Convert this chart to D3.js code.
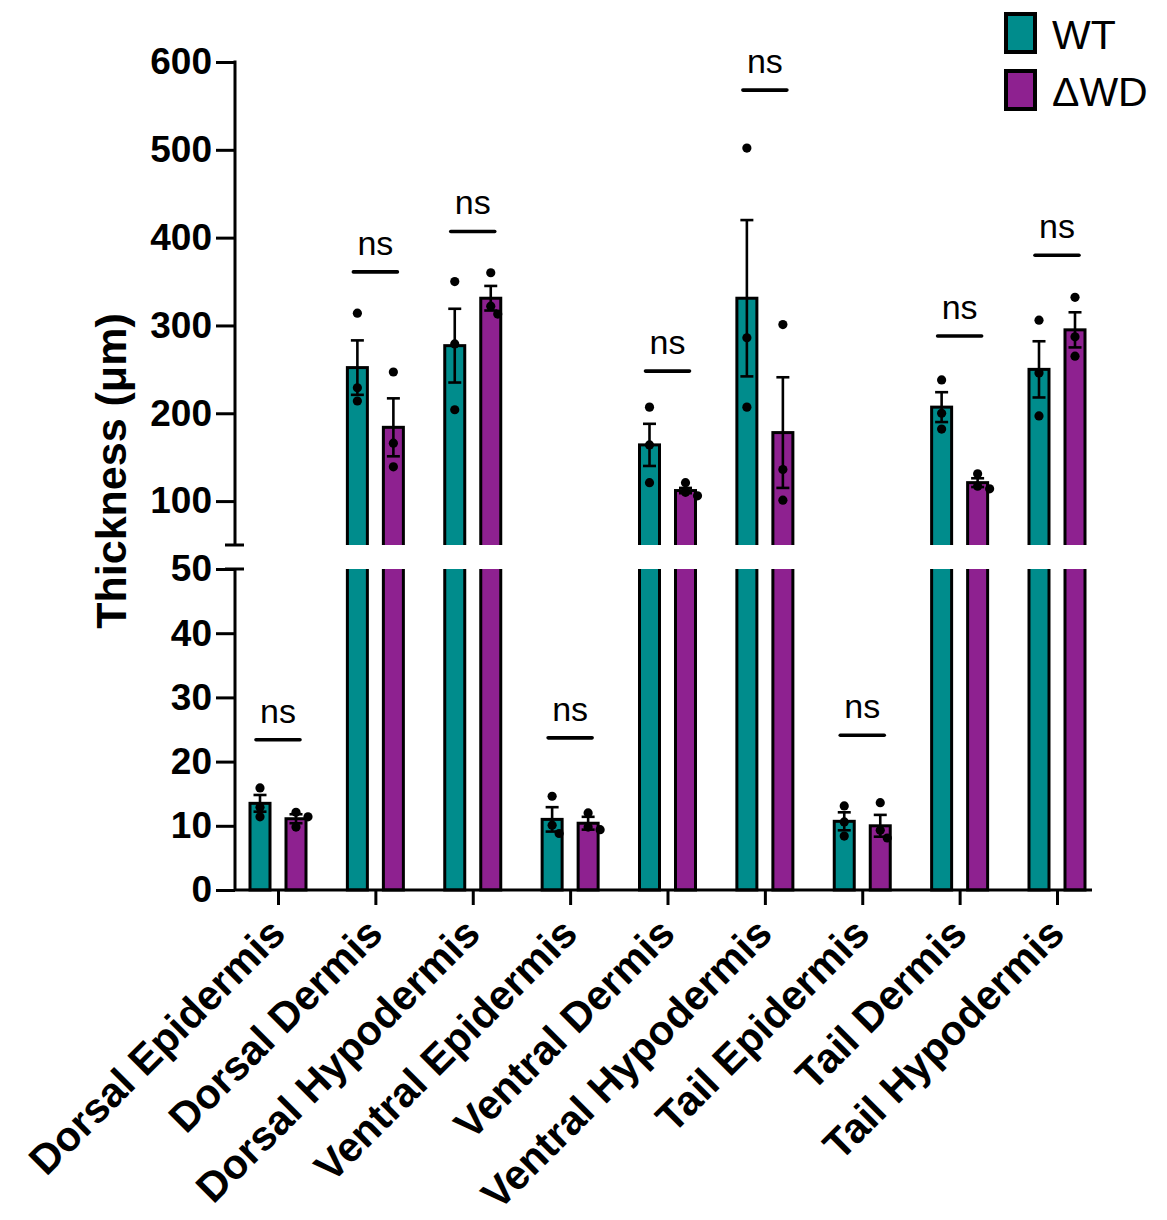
<!DOCTYPE html>
<html><head><meta charset="utf-8">
<script src="https://cdn.jsdelivr.net/npm/d3@7"></script>
<style>
body{margin:0;background:#fff}
svg{display:block}
text{font-family:"Liberation Sans",Arial,Helvetica,sans-serif;fill:#000}
</style>
</head><body>
<svg id="c" width="1167" height="1220"></svg>
<script>
// ---------- data ----------
const categories = ["Dorsal Epidermis","Dorsal Dermis","Dorsal Hypodermis","Ventral Epidermis","Ventral Dermis","Ventral Hypodermis","Tail Epidermis","Tail Dermis","Tail Hypodermis"];
const seriesNames = ["WT","ΔWD"];
const wtMean = [13.5, 252, 277, 11.0, 164, 331, 10.7, 207, 250];
const wtSem  = [1.3, 31, 42, 1.9, 24, 89, 1.4, 17, 32];
const wdMean = [11.1, 184, 331, 10.4, 112, 178, 10.0, 121, 295];
const wdSem  = [0.7, 33, 14, 1.0, 3, 63, 1.7, 5, 20];
const wtPoints = [[15.9,12.9,11.4],[314,229,214],[350,279,204],[14.6,10.1,8.8],[207,164,121],[502,286,207],[13.1,10.6,8.4],[238,200,182],[306,246,197]];
const wdPoints = [[12.1,11.4,9.8],[247,166,139],[360,322,313],[12.0,9.8,9.4],[121,110,106],[301,136,101],[13.6,9.3,8.1],[131,117,114],[332,287,265]];
const sigLabels = ["ns","ns","ns","ns","ns","ns","ns","ns","ns"];
const sigHeights = [23.4, 361, 407, 23.7, 248, 568, 24.1, 288, 380];
const upperTicks = [100,200,300,400,500,600];
const lowerTicks = [0,10,20,30,40,50];
const breakValue = 50;
const colors = ["#008C8C","#8E2190"];

// ---------- layout ----------
const svg = d3.select("#c");
const axisX = 235;
const yUpper = d3.scaleLinear().domain([breakValue, 600]).range([545, 62]);
const yLower = d3.scaleLinear().domain([0, breakValue]).range([890, 569]);
const x = d3.scalePoint().domain(categories).range([278, 1057]);
const offsets = [-18, 18];
const barW = 20;
const STROKE = 3;
const font = '"Liberation Sans",Arial,Helvetica,sans-serif';

const defs = svg.append("defs");
defs.append("clipPath").attr("id","clipLower").append("rect")
  .attr("x",0).attr("y",yLower(breakValue)).attr("width",1167).attr("height",1220-yLower(breakValue));
defs.append("clipPath").attr("id","clipUpper").append("rect")
  .attr("x",0).attr("y",0).attr("width",1167).attr("height",yUpper(breakValue));

const gLower = svg.append("g").attr("clip-path","url(#clipLower)");
const gUpper = svg.append("g").attr("clip-path","url(#clipUpper)");

const means = [wtMean, wdMean];
const sems = [wtSem, wdSem];
const pts = [wtPoints, wdPoints];

function yOf(v){ return v >= breakValue ? yUpper(v) : yLower(v); }

// bars
categories.forEach((c, i) => {
  [0,1].forEach(s => {
    const v = means[s][i];
    const cx = x(c) + offsets[s];
    const topL = v > breakValue ? yLower(breakValue) - 10 : yLower(v);
    gLower.append("rect")
      .attr("x", cx - barW/2).attr("width", barW)
      .attr("y", topL).attr("height", yLower(0) - topL)
      .attr("fill", colors[s]).attr("stroke","#000").attr("stroke-width",STROKE);
    if (v > breakValue) {
      const topU = yUpper(v);
      const botU = yUpper(breakValue) + 10;
      gUpper.append("rect")
        .attr("x", cx - barW/2).attr("width", barW)
        .attr("y", topU).attr("height", botU - topU)
        .attr("fill", colors[s]).attr("stroke","#000").attr("stroke-width",STROKE);
    }
  });
});

// error bars
categories.forEach((c, i) => {
  [0,1].forEach(s => {
    const m = means[s][i], e = sems[s][i];
    const cx = x(c) + offsets[s];
    const y1 = yOf(m + e), y2 = yOf(m - e);
    const g = svg.append("g").attr("stroke","#000").attr("stroke-width",2.6);
    g.append("line").attr("x1",cx).attr("x2",cx).attr("y1",y1).attr("y2",y2);
    g.append("line").attr("x1",cx-6.5).attr("x2",cx+6.5).attr("y1",y1).attr("y2",y1);
    g.append("line").attr("x1",cx-6.5).attr("x2",cx+6.5).attr("y1",y2).attr("y2",y2);
  });
});

// dots with simple collision jitter
const R = 4.6;
categories.forEach((c, i) => {
  [0,1].forEach(s => {
    const cx = x(c) + offsets[s];
    const placed = [];
    pts[s][i].forEach(v => {
      const py = yOf(v);
      const tries = [0, 7, -7, 12, -12];
      let px = cx;
      for (const t of tries) {
        const cand = cx + t;
        if (placed.every(p => Math.hypot(p[0]-cand, p[1]-py) >= 2*R)) { px = cand; break; }
      }
      placed.push([px, py]);
      svg.append("circle").attr("cx",px).attr("cy",py).attr("r",R).attr("fill","#000");
    });
  });
});

// significance bars
categories.forEach((c, i) => {
  const h = yOf(sigHeights[i]);
  const cx = x(c);
  svg.append("line").attr("x1",cx-22).attr("x2",cx+22).attr("y1",h).attr("y2",h)
    .attr("stroke","#000").attr("stroke-width",3.6).attr("stroke-linecap","round");
  svg.append("text").attr("x",cx).attr("y",h-17).attr("text-anchor","middle")
    .style("font-size","34px").text(sigLabels[i]);
});

// y axes
function styleAxis(g){
  g.selectAll("path").attr("stroke","#000").attr("stroke-width",STROKE);
  g.selectAll("line").attr("stroke","#000").attr("stroke-width",STROKE);
  g.selectAll("text").style("font-size","37px").style("font-weight","bold").style("font-family",font).attr("fill","#000");
}
const axU = svg.append("g").attr("transform",`translate(${axisX},0)`)
  .call(d3.axisLeft(yUpper).tickValues(upperTicks).tickSize(19).tickSizeOuter(0).tickPadding(4));
styleAxis(axU);
axU.select(".domain").remove();
axU.append("line").attr("x1",0).attr("x2",0).attr("y1",yUpper(600)-1.5).attr("y2",yUpper(breakValue))
  .attr("stroke","#000").attr("stroke-width",STROKE);
axU.append("line").attr("x1",-10).attr("x2",9).attr("y1",yUpper(breakValue)).attr("y2",yUpper(breakValue))
  .attr("stroke","#000").attr("stroke-width",STROKE);

const axL = svg.append("g").attr("transform",`translate(${axisX},0)`)
  .call(d3.axisLeft(yLower).tickValues(lowerTicks).tickSize(19).tickSizeOuter(0).tickPadding(4));
styleAxis(axL);
axL.select(".domain").remove();
axL.append("line").attr("x1",0).attr("x2",0).attr("y1",yLower(breakValue)).attr("y2",yLower(0))
  .attr("stroke","#000").attr("stroke-width",STROKE);
axL.append("line").attr("x1",-10).attr("x2",9).attr("y1",yLower(breakValue)).attr("y2",yLower(breakValue))
  .attr("stroke","#000").attr("stroke-width",STROKE);

// x axis
const axB = svg.append("g").attr("transform",`translate(0,${yLower(0)})`)
  .call(d3.axisBottom(x).tickSize(15).tickSizeOuter(0));
axB.select(".domain").remove();
axB.append("line").attr("x1",axisX).attr("x2",1092).attr("y1",0).attr("y2",0)
  .attr("stroke","#000").attr("stroke-width",STROKE);
axB.selectAll("line").attr("stroke","#000").attr("stroke-width",STROKE);
axB.selectAll(".tick text")
  .attr("x",0).attr("y",0).attr("dy",0)
  .attr("transform","translate(9,46) rotate(-45)")
  .style("text-anchor","end").style("font-size","41.5px").style("font-weight","bold")
  .style("font-family",font).attr("fill","#000");

// y title
svg.append("text").attr("transform","translate(126,471) rotate(-90)")
  .attr("text-anchor","middle").style("font-size","43px").style("font-weight","bold")
  .text("Thickness (μm)");

// legend
const leg = svg.append("g");
seriesNames.forEach((n, s) => {
  const ly = 14 + s*57;
  leg.append("rect").attr("x",1006).attr("y",ly).attr("width",29).attr("height",38)
    .attr("fill",colors[s]).attr("stroke","#000").attr("stroke-width",4);
  leg.append("text").attr("x",1052).attr("y",ly+35).style("font-size","41px").text(n);
});
</script>
</body></html>
